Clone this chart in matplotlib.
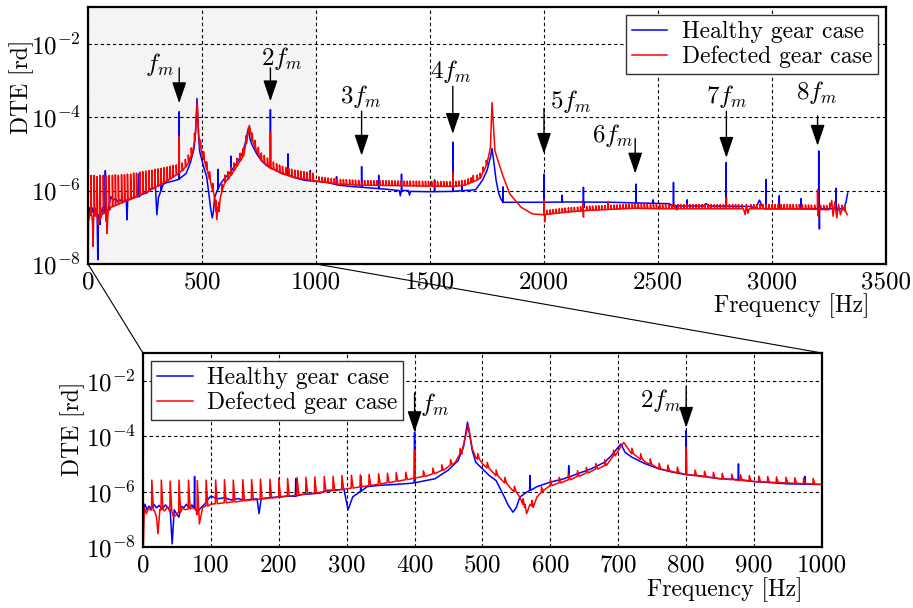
import numpy as np
import matplotlib
matplotlib.use('Agg')
import matplotlib.pyplot as plt
from matplotlib.patches import ConnectionPatch

OUTPUT_PLOT_FILE = 'out.png'

# Healthy gear case: spectrum floor, (frequency [Hz], DTE [rd])
HEALTHY_FLOOR = [
	(0.5, 2.0e-7), (3, 3.5e-7), (6, 2.2e-7), (9, 3.0e-7), (12, 2.4e-7), (16, 3.5e-7), (20, 2.6e-7),
	(24, 3.2e-7), (28, 2.3e-7), (33, 3.3e-7), (37, 2.6e-7), (40, 2.2e-7), (43, 1.3e-8), (46, 2.2e-7),
	(50, 1.5e-7), (53, 1.2e-7), (56, 3.0e-7), (60, 2.6e-7), (64, 3.5e-7), (68, 2.5e-7), (72, 3.3e-7),
	(80, 1.8e-7), (84, 2.4e-7), (88, 3.0e-7), (92, 3.8e-7), (96, 5.4e-7), (100, 6.8e-7), (110, 5.5e-7),
	(120, 6.0e-7), (130, 5.0e-7), (140, 5.6e-7), (150, 4.8e-7), (160, 5.3e-7), (168, 5.5e-7),
	(171, 1.6e-7), (174, 5.5e-7), (180, 5.8e-7), (196, 6.3e-7), (210, 6.8e-7), (224, 6.8e-7),
	(235, 7.9e-7), (260, 8.7e-7), (271, 1.1e-6), (296, 1.2e-6), (302, 2.2e-7), (309, 6.5e-7),
	(316, 8.5e-7), (330, 1.5e-6), (346, 1.66e-6), (370, 1.8e-6), (396, 2.0e-6), (405, 2.2e-6),
	(430, 2.9e-6), (449, 5.8e-6), (464, 1.3e-5), (472, 4.0e-5), (478, 3.2e-4), (485, 3.0e-5),
	(490, 1.15e-5), (500, 6.6e-6), (510, 3.8e-6), (520, 2.5e-6), (530, 8.3e-7), (538, 3.2e-7),
	(545, 1.8e-7), (550, 2.7e-7), (555, 6.3e-7), (565, 9.5e-7), (580, 1.5e-6), (600, 2.2e-6),
	(620, 2.9e-6), (640, 4.4e-6), (660, 6.6e-6), (680, 1.15e-5), (690, 2.0e-5), (700, 4.0e-5),
	(704, 5.2e-5), (710, 2.6e-5), (720, 1.74e-5), (740, 1.0e-5), (760, 6.6e-6), (780, 5.0e-6),
	(800, 4.1e-6), (820, 3.7e-6), (850, 2.9e-6), (880, 2.7e-6), (900, 2.3e-6), (950, 1.9e-6),
	(1000, 1.8e-6), (1050, 1.66e-6), (1100, 1.4e-6), (1150, 1.3e-6), (1200, 1.23e-6), (1300, 1.1e-6),
	(1365, 1.0e-6), (1370, 7.2e-7), (1375, 1.0e-6), (1405, 1.0e-6), (1410, 7.5e-7), (1415, 9.5e-7),
	(1500, 9.3e-7), (1600, 9.5e-7), (1650, 1.0e-6), (1700, 1.05e-6), (1730, 1.9e-6), (1750, 3.5e-6),
	(1765, 8.0e-6), (1772, 1.4e-5), (1780, 6.0e-6), (1790, 1.9e-6), (1800, 9.0e-7), (1810, 6.0e-7),
	(1820, 4.8e-7), (2000, 4.8e-7), (2100, 4.9e-7), (2300, 4.8e-7), (2400, 4.6e-7), (2550, 4.4e-7),
	(2560, 3.8e-7), (2700, 3.8e-7), (2710, 4.4e-7), (2725, 3.8e-7), (2900, 3.7e-7), (2930, 3.4e-7),
	(2945, 5.5e-7), (2955, 4.0e-7), (2965, 3.2e-7), (3300, 3.2e-7), (3315, 3.0e-7), (3325, 5.0e-7),
	(3332, 8.5e-7),
]

# narrow peaks of the healthy case (Hz, peak DTE)
HEALTHY_PEAKS = [
	(76, 3.5e-6), (225, 2.9e-6), (321, 3.5e-6), (400, 1.4e-4), (570, 3.8e-6), (627, 8.7e-6),
	(800, 1.6e-4), (877, 1.0e-5), (975, 3.5e-6), (1090, 2.4e-6), (1200, 4.5e-6), (1275, 2.6e-6),
	(1375, 2.8e-6), (1520, 1.95e-6), (1600, 2.1e-5), (1640, 1.6e-6), (1821, 1.26e-6), (2000, 2.8e-6),
	(2080, 7.5e-7), (2173, 1.23e-6), (2403, 1.5e-6), (2479, 5.6e-7), (2568, 1.66e-6), (2628, 5.6e-7),
	(2799, 5.8e-6), (2974, 2.0e-6), (3032, 7.2e-7), (3127, 6.0e-7), (3205, 1.2e-5), (3281, 1.15e-6),
]

# narrow drops of the healthy case (Hz, lowest DTE)
HEALTHY_DROPS = [(2176, 3.5e-7), (2582, 3.0e-7), (3208, 9.0e-8), (3284, 2.5e-7)]

# Defected gear case: spectrum floor
DEFECTED_FLOOR = [
	(0.5, 1.0e-8), (2, 2.7e-7), (5, 1.6e-7), (8, 2.5e-7), (11, 2.2e-7), (17, 2.0e-7), (20, 1.2e-7),
	(22, 3.0e-8), (25, 2.3e-7), (32, 2.0e-7), (36, 2.8e-7), (45, 1.2e-7), (50, 1.5e-7), (58, 2.5e-7),
	(63, 2.2e-7), (72, 2.6e-7), (78, 2.4e-7), (83, 6.8e-8), (88, 2.7e-7), (100, 3.5e-7), (150, 4.7e-7),
	(200, 6.3e-7), (250, 8.7e-7), (300, 1.26e-6), (350, 1.9e-6), (395, 2.9e-6), (420, 3.8e-6),
	(440, 5.8e-6), (460, 1.15e-5), (470, 3.0e-5), (479, 2.5e-4), (485, 3.5e-5), (490, 1.74e-5),
	(500, 1.0e-5), (520, 3.8e-6), (540, 1.45e-6), (555, 6.3e-7), (562, 2.7e-7), (565, 1.6e-7),
	(570, 3.5e-7), (575, 2.7e-7), (580, 6.3e-7), (590, 1.1e-6), (600, 1.66e-6), (620, 2.3e-6),
	(650, 4.4e-6), (680, 8.7e-6), (700, 3.0e-5), (708, 6.0e-5), (720, 2.3e-5), (740, 1.15e-5),
	(760, 6.6e-6), (800, 4.1e-6), (850, 2.9e-6), (900, 2.3e-6), (1000, 1.8e-6), (1100, 1.5e-6),
	(1200, 1.4e-6), (1400, 1.35e-6), (1600, 1.3e-6), (1650, 1.4e-6), (1700, 1.85e-6), (1720, 2.2e-6),
	(1750, 5.4e-6), (1765, 1.5e-5), (1772, 2.5e-4), (1785, 1.2e-5), (1800, 6.0e-6), (1820, 2.5e-6),
	(1850, 8.1e-7), (1900, 3.5e-7), (1950, 2.3e-7), (2000, 2.2e-7), (2100, 2.6e-7), (2200, 2.9e-7),
	(2400, 3.3e-7), (2500, 3.2e-7), (2875, 3.2e-7), (2882, 2.2e-7), (2888, 4.2e-7), (2894, 2.4e-7),
	(2900, 3.2e-7), (3100, 3.2e-7), (3250, 3.0e-7), (3262, 5.4e-7), (3268, 2.0e-7), (3276, 5.0e-7),
	(3284, 1.8e-7), (3292, 4.2e-7), (3300, 2.2e-7), (3310, 3.5e-7), (3330, 2.2e-7),
]

DEFECTED_PEAKS = [
	(400, 3.0e-5), (800, 4.0e-5), (1200, 1.7e-6), (1600, 3.2e-6), (1690, 2.6e-6), (2000, 5.6e-7),
	(2170, 4.6e-7), (2280, 5.0e-7), (2800, 6.6e-7), (3200, 1.05e-6),
]

DEFECTED_DROPS = [(2003, 1.4e-7), (2173, 1.9e-7), (3203, 2.0e-7)]

# sidebands of the defected case below the first mesh frequency (Hz, peak DTE)
DEFECTED_SIDEBANDS_LOW = [
	(13, 2.6e-6), (27, 2.6e-6), (40, 2.4e-6), (53, 2.6e-6), (67, 2.6e-6), (80, 2.5e-6), (93, 2.6e-6),
	(107, 2.6e-6), (120, 2.7e-6), (133, 2.6e-6), (147, 2.7e-6), (160, 2.7e-6), (173, 2.8e-6),
	(187, 2.8e-6), (200, 3.0e-6), (213, 3.0e-6), (227, 3.2e-6), (240, 3.3e-6), (253, 3.4e-6),
	(267, 3.5e-6), (280, 3.6e-6), (293, 3.8e-6), (307, 3.9e-6), (320, 4.0e-6), (333, 4.2e-6),
	(347, 4.4e-6), (360, 4.6e-6), (373, 4.8e-6), (387, 5.0e-6),
]

# remaining sidebands of the defected case: frequencies and height above the floor
DEFECTED_SIDEBANDS_MID_HZ = [
	413, 427, 440, 453, 467, 493, 507, 520, 533, 547, 560, 573, 587, 600, 613, 627, 640, 653, 667, 680,
	693, 720, 733, 747, 760, 773, 787, 813, 827, 840, 853, 867, 880, 893, 907, 920, 933, 947, 960, 973,
	987,
]
DEFECTED_SIDEBANDS_HIGH_HZ = [
	1013, 1027, 1040, 1053, 1067, 1080, 1093, 1107, 1120, 1133, 1147, 1160, 1173, 1187, 1213, 1227,
	1240, 1253, 1267, 1280, 1293, 1307, 1320, 1333, 1347, 1360, 1373, 1387, 1400, 1413, 1427, 1440,
	1453, 1467, 1480, 1493, 1507, 1520, 1533, 1547, 1560, 1573, 1587, 1613, 1627, 1640, 1653, 1667,
	1680, 1707, 1720, 1733, 1747,
]
DEFECTED_SIDEBANDS_TAIL_HZ = [
	2013, 2027, 2040, 2053, 2067, 2080, 2093, 2107, 2120, 2133, 2147, 2160, 2187, 2200, 2213, 2227,
	2240, 2253, 2267, 2293, 2307, 2320, 2333, 2347, 2360, 2373, 2387, 2400, 2413, 2427, 2440, 2453,
	2467, 2480, 2493, 2507, 2520, 2533, 2547, 2560, 2573, 2587, 2600, 2613, 2627, 2640, 2653, 2667,
	2680, 2693, 2707, 2720, 2733, 2747, 2760, 2773, 2787, 2813, 2827, 2840, 2853, 2867, 2907, 2920,
	2933, 2947, 2960, 2973, 2987, 3000, 3013, 3027, 3040, 3053, 3067, 3080, 3093, 3107, 3120, 3133,
	3147, 3160, 3173, 3187, 3213, 3227, 3240, 3253, 3307, 3320,
]
SIDEBAND_RISE_MID = 1.6
SIDEBAND_RISE_HIGH = 1.35
SIDEBAND_RISE_TAIL = 1.3

HARMONIC_HZ = [400, 800, 1200, 1600, 2000, 2400, 2800, 3200]
HARMONIC_LABELS = ['$f_m$', '$2f_m$', '$3f_m$', '$4f_m$', '$5f_m$', '$6f_m$', '$7f_m$', '$8f_m$']

Y_TICKS = [1e-8, 1e-6, 1e-4, 1e-2]
Y_TICK_LABELS = ['$10^{-8}$', '$10^{-6}$', '$10^{-4}$', '$10^{-2}$']

HEALTHY_COLOR = '#0000ff'
DEFECTED_COLOR = '#ff0000'

FONT_SIZE = 17


def _floor_at(hz, floor):
	""" Value of the floor polyline (log scale) at the given frequencies. """

	knots_hz, knots_dte = zip(*floor)
	return 10 ** np.interp(hz, knots_hz, np.log10(knots_dte))


def _build_trace(floor, peaks, drops, sidebands=()):
	""" Puts floor, narrow peaks, drops and sideband teeth together into one sorted trace. """

	points = list(floor)

	for hz, top in peaks:
		foot = _floor_at(hz, floor)
		points += [(hz - 0.6, foot), (hz, top), (hz + 0.6, foot)]

	for hz, bottom in drops:
		foot = _floor_at(hz, floor)
		points += [(hz - 0.6, foot), (hz, bottom), (hz + 0.8, foot)]

	# sideband teeth rise sharply and decay over a few Hz
	for hz, top in sidebands:
		foot = _floor_at(hz, floor)
		points += [(hz - 0.4, foot), (hz, top), (hz + 2.5, foot)]

	points.sort()
	hz, dte = zip(*points)
	return np.array(hz), np.array(dte)


def _sidebands_above_floor(freqs, rise, floor):
	return [(hz, _floor_at(hz, floor) * rise) for hz in freqs]


def _style_axes(ax, xticks):
	ax.set_yscale('log')
	ax.set_ylim(1e-8, 1e-1)
	ax.set_xlim(xticks[0], xticks[-1])
	ax.set_xticks(xticks)
	ax.set_xticklabels([str(t) for t in xticks])
	ax.set_yticks(Y_TICKS)
	ax.set_yticklabels(Y_TICK_LABELS)
	ax.yaxis.set_minor_locator(matplotlib.ticker.NullLocator())
	ax.tick_params(axis='both', which='both', length=0, labelsize=18, pad=5)
	ax.grid(True, color='k', linewidth=0.8, linestyle=(0, (3, 2.5)))
	ax.set_axisbelow(True)
	for spine in ax.spines.values():
		spine.set_linewidth(1.6)


def _plot_traces(ax, healthy, defected):
	line_h, = ax.plot(*healthy, color=HEALTHY_COLOR, linewidth=1.1, label='Healthy gear case')
	line_d, = ax.plot(*defected, color=DEFECTED_COLOR, linewidth=1.1, label='Defected gear case')
	return line_h, line_d


def _add_legend(ax, loc):
	leg = ax.legend(loc=loc, fontsize=FONT_SIZE, fancybox=False, framealpha=1, edgecolor='#333333',
		borderpad=0.25, labelspacing=0.1, handlelength=1.5, handletextpad=0.6, borderaxespad=0.35)
	leg.get_frame().set_linewidth(1.0)


def _annotate(ax, label, hz, text_xy, arrow_from, arrow_to, ha='center'):
	ax.annotate('', xy=(hz, arrow_to), xytext=(hz, arrow_from),
		arrowprops=dict(arrowstyle='-|>,head_length=0.65,head_width=0.22', color='k', lw=1.0,
			shrinkA=0, shrinkB=0, mutation_scale=20))
	ax.text(text_xy[0], text_xy[1], label, fontsize=18, ha=ha, va='center')


def main():
	plt.rcParams['font.family'] = 'serif'
	plt.rcParams['font.serif'] = ['cmr10']
	plt.rcParams['mathtext.fontset'] = 'cm'
	plt.rcParams['axes.unicode_minus'] = False

	sidebands = (DEFECTED_SIDEBANDS_LOW
		+ _sidebands_above_floor(DEFECTED_SIDEBANDS_MID_HZ, SIDEBAND_RISE_MID, DEFECTED_FLOOR)
		+ _sidebands_above_floor(DEFECTED_SIDEBANDS_HIGH_HZ, SIDEBAND_RISE_HIGH, DEFECTED_FLOOR)
		+ _sidebands_above_floor(DEFECTED_SIDEBANDS_TAIL_HZ, SIDEBAND_RISE_TAIL, DEFECTED_FLOOR))

	healthy = _build_trace(HEALTHY_FLOOR, HEALTHY_PEAKS, HEALTHY_DROPS)
	defected = _build_trace(DEFECTED_FLOOR, DEFECTED_PEAKS, DEFECTED_DROPS, sidebands)

	fig = plt.figure(figsize=(9.13, 6.08), dpi=100)
	ax_top = fig.add_axes([0.0964, 0.5658, 0.874, 0.4227])
	ax_zoom = fig.add_axes([0.1566, 0.1003, 0.7437, 0.3191])

	# full spectrum
	ax_top.axvspan(0, 1000, color='#f4f4f4', zorder=0)
	_plot_traces(ax_top, healthy, defected)
	_style_axes(ax_top, [0, 500, 1000, 1500, 2000, 2500, 3000, 3500])
	_add_legend(ax_top, 'upper right')
	ax_top.set_ylabel('DTE [rd]', fontsize=FONT_SIZE)
	ax_top.yaxis.set_label_coords(-0.068, 0.69)
	ax_top.set_xlabel('Frequency [Hz]', fontsize=FONT_SIZE, loc='right')
	ax_top.xaxis.set_label_coords(0.979, -0.115)

	# text position, alignment, arrow start and arrow tip for each harmonic
	top_marks = [
		((378, 2.7e-3), 'right', 2.2e-3, 2.4e-4),
		((848, 3.9e-3), 'center', 2.2e-3, 2.7e-4),
		((1195, 3.7e-4), 'center', 1.45e-4, 8.9e-6),
		((1590, 1.74e-3), 'center', 6.9e-4, 3.5e-5),
		((2025, 2.7e-4), 'left', 1.74e-4, 1.0e-5),
		((2393, 3.1e-5), 'right', 2.6e-5, 2.9e-6),
		((2802, 3.7e-4), 'center', 1.45e-4, 7.8e-6),
		((3197, 4.8e-4), 'center', 1.07e-4, 1.66e-5),
	]
	for label, hz, (text_xy, ha, start, tip) in zip(HARMONIC_LABELS, HARMONIC_HZ, top_marks):
		_annotate(ax_top, label, hz, text_xy, start, tip, ha)

	# zoom on 0 - 1000 Hz
	_plot_traces(ax_zoom, healthy, defected)
	_style_axes(ax_zoom, [0, 100, 200, 300, 400, 500, 600, 700, 800, 900, 1000])
	_add_legend(ax_zoom, 'upper left')
	ax_zoom.set_ylabel('DTE [rd]', fontsize=FONT_SIZE)
	ax_zoom.yaxis.set_label_coords(-0.085, 0.61)
	ax_zoom.set_xlabel('Frequency [Hz]', fontsize=FONT_SIZE, loc='right')
	ax_zoom.xaxis.set_label_coords(0.972, -0.155)

	_annotate(ax_zoom, HARMONIC_LABELS[0], HARMONIC_HZ[0], (408, 1.35e-3), 3.6e-3, 1.4e-4, 'left')
	_annotate(ax_zoom, HARMONIC_LABELS[1], HARMONIC_HZ[1], (793, 2.0e-3), 6.0e-3, 2.0e-4, 'right')

	# lines linking the shaded band to the zoomed panel
	for hz in (0, 1000):
		link = ConnectionPatch(xyA=(hz, 1e-8), coordsA=ax_top.transData,
			xyB=(hz, 1e-1), coordsB=ax_zoom.transData, color='k', linewidth=0.8)
		fig.add_artist(link)

	fig.savefig(OUTPUT_PLOT_FILE, dpi=100)


if __name__ == "__main__":
	main()
